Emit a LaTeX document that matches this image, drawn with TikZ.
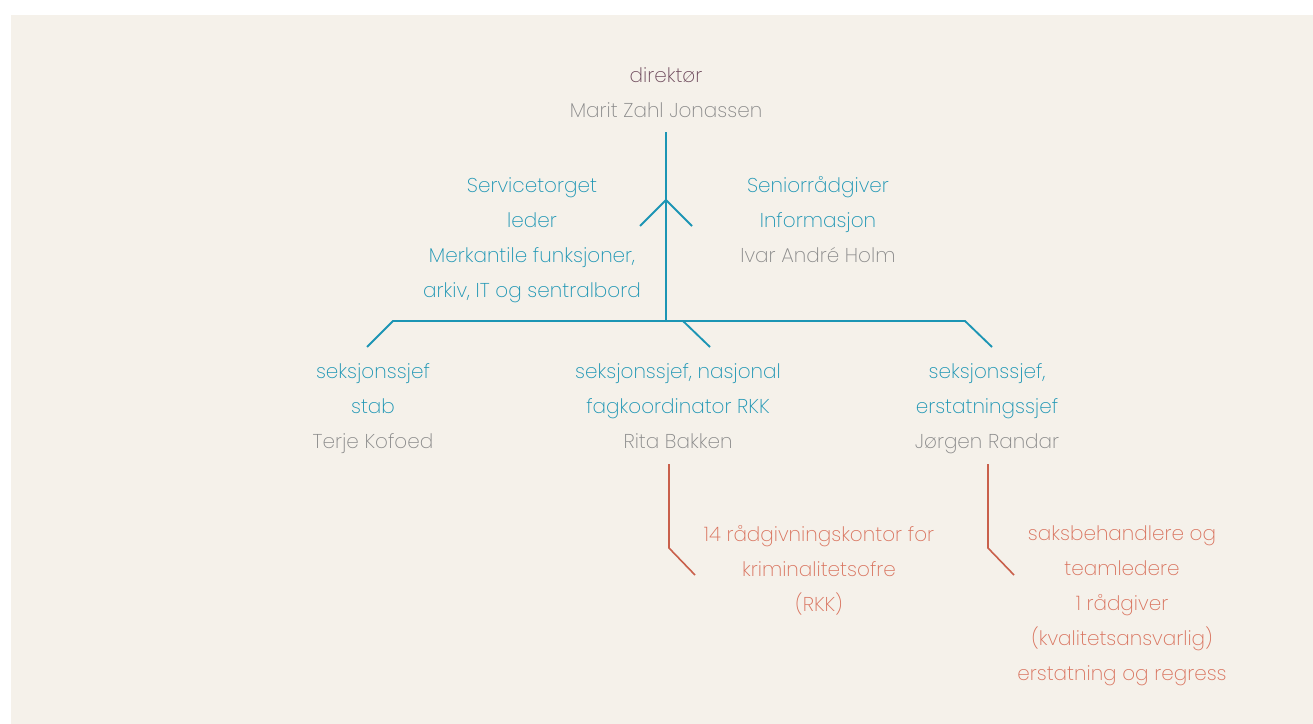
\documentclass[tikz,border=0pt]{standalone}
\usepackage{fontspec}
\setmainfont{Poppins}[UprightFont=* ExtraLight]
\usepackage{tikz}
\usetikzlibrary{positioning}
\definecolor{PaperBeige}{HTML}{F5F1EA}
\definecolor{OrgTeal}{HTML}{1C95B4}
\definecolor{NameGray}{HTML}{8A8A8A}
\definecolor{ChiefPlum}{HTML}{6E4A5C}
\definecolor{UnitSalmon}{HTML}{D9735E}
\definecolor{LineSalmon}{HTML}{C9604B}
\tikzset{
  orgtext/.style={align=center, inner sep=0pt, font=\fontsize{15}{26.25}\selectfont},
  tealtext/.style={orgtext, text=OrgTeal},
  unittext/.style={orgtext, text=UnitSalmon},
  tealline/.style={draw=OrgTeal, line width=1.4pt},
  redline/.style={draw=LineSalmon, line width=1.2pt}
}
\newcommand{\person}[1]{\textcolor{NameGray}{#1}}

\begin{document}
\begin{tikzpicture}[x=0.75pt, y=-0.75pt]
  \useasboundingbox (0,0) rectangle (1313,724);
  \fill[PaperBeige] (11,15) rectangle (1313,724);

  % Top level
  \node[orgtext] (dir) at (666,93) {\textcolor{ChiefPlum}{direktør}\\\person{Marit Zahl Jonassen}};

  % Staff functions
  \node[tealtext] (service) at (532,240) {Servicetorget\\leder\\Merkantile funksjoner,\\arkiv, IT og sentralbord};
  \node[tealtext] (senior) at (818,220) {Seniorrådgiver\\Informasjon\\\person{Ivar André Holm}};

  % Sections
  \node[tealtext] (stab) at (373,409) {seksjonssjef\\stab\\\person{Terje Kofoed}};
  \node[tealtext] (rkk) at (678,406) {seksjonssjef, nasjonal\\fagkoordinator RKK\\\person{Rita Bakken}};
  \node[tealtext] (erst) at (987,409) {seksjonssjef,\\erstatningssjef\\\person{Jørgen Randar}};

  % Units
  \node[unittext] (offices) at (819,570) {14 rådgivningskontor for\\kriminalitetsofre\\(RKK)};
  \node[unittext] (casework) at (1122,606) {saksbehandlere og\\teamledere\\1 rådgiver\\(kvalitetsansvarlig)\\erstatning og regress};

  % Line points
  \coordinate (trunkTop) at (666,132);
  \coordinate (bar) at (666,321);
  \coordinate (chevTop) at (666,200);
  \coordinate (chevL) at (640,226);
  \coordinate (chevR) at (692,226);
  \coordinate (barL) at (393,321);
  \coordinate (barM) at (683,321);
  \coordinate (barR) at (965,321);
  \coordinate (stabEnd) at (367,347);
  \coordinate (rkkEnd) at (710,347);
  \coordinate (erstEnd) at (992,347);
  \coordinate (offTop) at (669,464);
  \coordinate (offBend) at (669,548);
  \coordinate (offEnd) at (695,575);
  \coordinate (caseTop) at (988,464);
  \coordinate (caseBend) at (988,548);
  \coordinate (caseEnd) at (1014,575);

  % Connectors
  \draw[tealline] (trunkTop) -- (bar);
  \draw[tealline] (chevL) -- (chevTop) -- (chevR);
  \draw[tealline] (stabEnd) -- (barL) -- (barR) -- (erstEnd);
  \draw[tealline] (barM) -- (rkkEnd);
  \draw[redline] (offTop) -- (offBend) -- (offEnd);
  \draw[redline] (caseTop) -- (caseBend) -- (caseEnd);
\end{tikzpicture}
\end{document}
